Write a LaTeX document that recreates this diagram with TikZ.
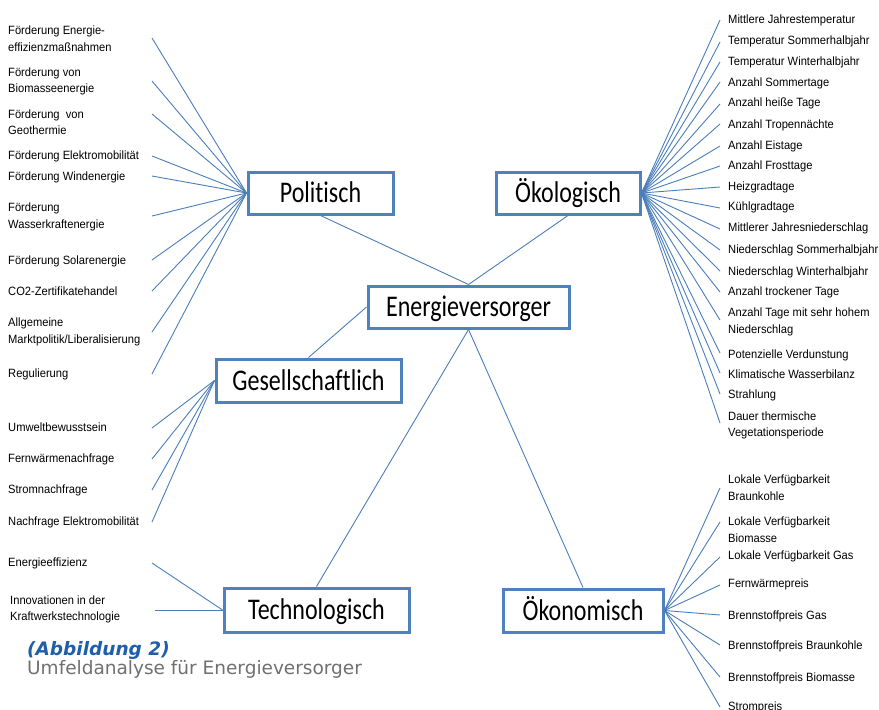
\documentclass[tikz,border=0pt]{standalone}
\usepackage{fontspec}
\setmainfont{Liberation Sans}
\newfontfamily\leaffont[FakeStretch=0.93]{Liberation Sans}
\newfontfamily\boxfont[FakeStretch=0.8,Ligatures=NoCommon]{Carlito}
\newfontfamily\capfont{DejaVu Sans}
\definecolor{boxblue}{RGB}{79,129,189}
\definecolor{linkblue}{RGB}{74,126,187}
\definecolor{capblue}{RGB}{31,95,170}
\definecolor{capgray}{RGB}{112,112,112}
\begin{document}
\begin{tikzpicture}[x=1pt,y=-1pt,
  catbox/.style={draw=boxblue, line width=3pt, fill=white, inner sep=0pt,
    text height=19pt, text depth=0pt, font=\boxfont\fontsize{30}{34}\selectfont},
  leaf/.style={anchor=base west, inner sep=0pt, align=left,
    font=\leaffont\fontsize{12}{16.7}\selectfont, text=black},
  link/.style={draw=linkblue, line width=0.9pt},
]
\useasboundingbox[fill=white] (0,0) rectangle (879,710);

% category boxes
\node[catbox, minimum width=145pt, minimum height=42pt] (pol) at (320.5,193) {Politisch};
\node[catbox, minimum width=144pt, minimum height=42pt] (oek) at (568,193) {Ökologisch};
\node[catbox, minimum width=201pt, minimum height=42pt] (ev) at (468.5,307) {Energieversorger};
\node[catbox, minimum width=185pt, minimum height=43pt] (ges) at (308.5,380.5) {Gesellschaftlich};
\node[catbox, minimum width=185pt, minimum height=44pt] (tec) at (316.5,610) {Technologisch};
\node[catbox, minimum width=160pt, minimum height=43pt] (oko) at (583,610.5) {Ökonomisch};

% main connectors
\draw[link] (pol.south) -- (ev.north);
\draw[link] (oek.south) -- (ev.north);
\draw[link] (ev.west) -- (ges.north);
\draw[link] (ev.south) -- (tec.north);
\draw[link] (ev.south) -- (oko.north);

% Politisch leaves (two-line labels are placed by the baseline of their last line)
\node[leaf] (p1) at (8,51.5) {Förderung Energie-\\effizienzmaßnahmen};
\node[leaf] (p2) at (8,92.7) {Förderung von\\Biomasseenergie};
\node[leaf] (p3) at (8,134.7) {Förderung\ \ von\\Geothermie};
\node[leaf] (p4) at (8,159.5) {Förderung Elektromobilität};
\node[leaf] (p5) at (8,180) {Förderung Windenergie};
\node[leaf] (p6) at (8,228.4) {Förderung\\Wasserkraftenergie};
\node[leaf] (p7) at (8,264) {Förderung Solarenergie};
\node[leaf] (p8) at (8,295) {CO2-Zertifikatehandel};
\node[leaf] (p9) at (8,343.4) {Allgemeine\\Marktpolitik/Liberalisierung};
\node[leaf] (p10) at (8,377.3) {Regulierung};
\foreach \y [count=\i] in {38,81,114,156,176,216,260,291,332,374}{
  \coordinate (pe\i) at (152,\y);
  \draw[link] (pe\i) -- (pol.west);
}

% Gesellschaftlich leaves
\node[leaf] (g1) at (8,431.7) {Umweltbewusstsein};
\node[leaf] (g2) at (8,462.7) {Fernwärmenachfrage};
\node[leaf] (g3) at (8,493.3) {Stromnachfrage};
\node[leaf] (g4) at (8,525) {Nachfrage Elektromobilität};
\foreach \y [count=\i] in {428,459,490,522}{
  \coordinate (ge\i) at (152,\y);
  \draw[link] (ge\i) -- (ges.west);
}

% Technologisch leaves
\node[leaf] (t1) at (8,566.7) {Energieeffizienz};
\node[leaf, font=\leaffont\fontsize{12}{15.8}\selectfont] (t2) at (10,620.1) {Innovationen in der\\Kraftwerkstechnologie};
\coordinate (te1) at (152,563);
\coordinate (te2) at (155,610);
\draw[link] (te1) -- (tec.west);
\draw[link] (te2) -- (tec.west);

% Oekologisch leaves
\node[leaf] (o1) at (728,23.3) {Mittlere Jahrestemperatur};
\node[leaf] (o2) at (728,44.3) {Temperatur Sommerhalbjahr};
\node[leaf] (o3) at (728,65) {Temperatur Winterhalbjahr};
\node[leaf] (o4) at (728,86) {Anzahl Sommertage};
\node[leaf] (o5) at (728,106.7) {Anzahl heiße Tage};
\node[leaf] (o6) at (728,128.3) {Anzahl Tropennächte};
\node[leaf] (o7) at (728,149) {Anzahl Eistage};
\node[leaf] (o8) at (728,169.3) {Anzahl Frosttage};
\node[leaf] (o9) at (728,190) {Heizgradtage};
\node[leaf] (o10) at (728,210.7) {Kühlgradtage};
\node[leaf] (o11) at (728,231.7) {Mittlerer Jahresniederschlag};
\node[leaf] (o12) at (728,253.3) {Niederschlag Sommerhalbjahr};
\node[leaf] (o13) at (728,275) {Niederschlag Winterhalbjahr};
\node[leaf] (o14) at (728,295) {Anzahl trockener Tage};
\node[leaf] (o15) at (728,333.2) {Anzahl Tage mit sehr hohem\\Niederschlag};
\node[leaf] (o16) at (728,358.3) {Potenzielle Verdunstung};
\node[leaf] (o17) at (728,378.3) {Klimatische Wasserbilanz};
\node[leaf] (o18) at (728,398.3) {Strahlung};
\node[leaf] (o19) at (728,436.7) {Dauer thermische\\Vegetationsperiode};
\foreach \y [count=\i] in {20,42,62,82,104,124,146,166,187,208,229,250,271,292,320,353,373,394,423}{
  \coordinate (oe\i) at (720,\y);
  \draw[link] (oek.east) -- (oe\i);
}

% Oekonomisch leaves
\node[leaf] (k1) at (728,500.3) {Lokale Verfügbarkeit\\Braunkohle};
\node[leaf] (k2) at (728,542) {Lokale Verfügbarkeit\\Biomasse};
\node[leaf] (k3) at (728,559.3) {Lokale Verfügbarkeit Gas};
\node[leaf] (k4) at (728,587.3) {Fernwärmepreis};
\node[leaf] (k5) at (728,619.3) {Brennstoffpreis Gas};
\node[leaf] (k6) at (728,649.3) {Brennstoffpreis Braunkohle};
\node[leaf] (k7) at (728,681) {Brennstoffpreis Biomasse};
\node[leaf] (k8) at (728,710) {Strompreis};
\foreach \y [count=\i] in {488,522,557,585,615,645,677,707}{
  \coordinate (ke\i) at (720,\y);
  \draw[link] (oko.east) -- (ke\i);
}

% caption
\node[anchor=base west, inner sep=0pt, text=capblue,
  font=\capfont\bfseries\itshape\fontsize{18.5}{22}\selectfont] (capA) at (27,655) {(Abbildung 2)};
\node[anchor=base west, inner sep=0pt, text=capgray,
  font=\capfont\fontsize{18.5}{22}\selectfont] (capB) at (27,674) {Umfeldanalyse für Energieversorger};
\end{tikzpicture}
\end{document}
